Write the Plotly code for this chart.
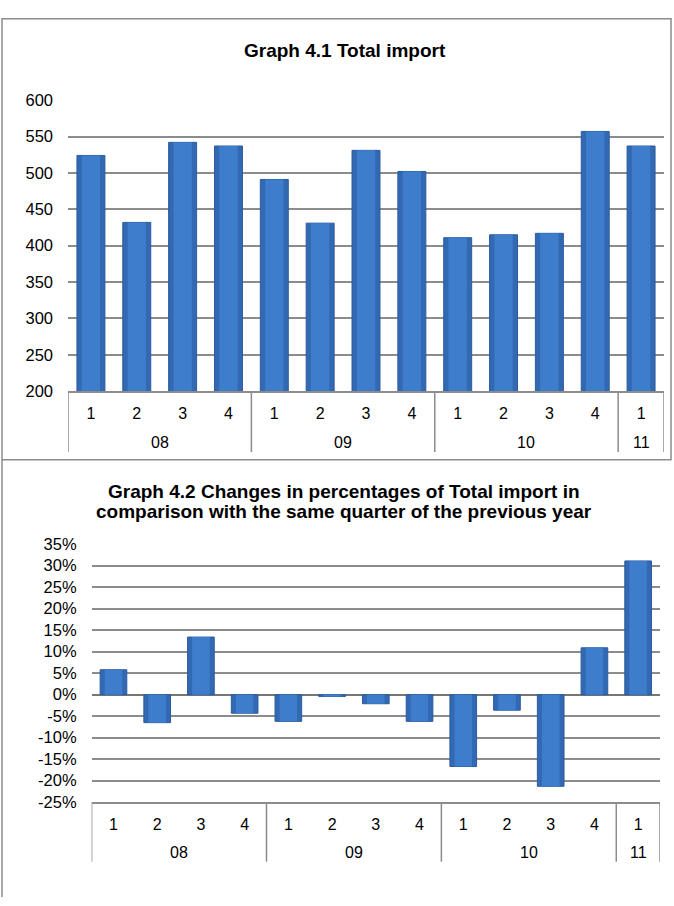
import plotly.graph_objects as go

# ---- data ----
years = ['08', '08', '08', '08', '09', '09', '09', '09', '10', '10', '10', '10', '11']
quarters = ['1', '2', '3', '4', '1', '2', '3', '4', '1', '2', '3', '4', '1']
total_import = [524, 432, 542, 537, 491, 431, 531, 502, 411, 415, 417, 557, 537]
pct_change = [5.8, -6.5, 13.4, -4.3, -6.2, -0.4, -2.1, -6.2, -16.7, -3.6, -21.3, 10.9, 31.1]
import_ticks = [200, 250, 300, 350, 400, 450, 500, 550, 600]
pct_ticks = [-25, -20, -15, -10, -5, 0, 5, 10, 15, 20, 25, 30, 35]
pct_tick_labels = ['-25%', '-20%', '-15%', '-10%', '-5%', '0%', '5%', '10%', '15%',
                   '20%', '25%', '30%', '35%']
title1 = 'Graph 4.1 Total import'
title2a = 'Graph 4.2 Changes in percentages of Total import in'
title2b = 'comparison with the same quarter of the previous year'

W, H = 674, 906
BAR_EDGE = '#2A5C9E'
BAR_OUT = '#3269B2'
BAR_IN = '#3E7DCC'
GRID = '#8C8C8C'
FONT = 'Liberation Sans, Arial, sans-serif'


def px(x):
    return x / W


def py(y):
    return 1 - y / H


idx = list(range(len(quarters)))

# year groups: centers and boundaries derived from the years list
groups = []
for i, yv in enumerate(years):
    if not groups or groups[-1][0] != yv:
        groups.append([yv, i, i])
    else:
        groups[-1][2] = i
bounds = [g[1] - 0.5 for g in groups] + [groups[-1][2] + 0.5]

fig = go.Figure()
for vals, xa, ya in [(total_import, 'x', 'y'), (pct_change, 'x2', 'y2')]:
    fig.add_trace(go.Bar(x=idx, y=vals, xaxis=xa, yaxis=ya, width=0.61,
                         marker=dict(color=BAR_OUT, line=dict(color=BAR_EDGE, width=1)),
                         showlegend=False, hoverinfo='skip'))
    fig.add_trace(go.Bar(x=idx, y=vals, xaxis=xa, yaxis=ya, width=0.40,
                         marker=dict(color=BAR_IN, line=dict(width=0)),
                         showlegend=False, hoverinfo='skip'))

xcommon = dict(type='linear', range=[-0.5, len(idx) - 0.5], tickvals=idx,
               ticktext=quarters, showgrid=False, zeroline=False, ticks='',
               showline=True, linecolor=GRID, linewidth=1.5, ticklabelstandoff=7,
               tickfont=dict(family=FONT, size=16, color='black'))
ycommon = dict(showgrid=True, gridcolor=GRID, gridwidth=1.5, showline=False,
               ticks='', ticklabelstandoff=14,
               tickfont=dict(family=FONT, size=16.5, color='black'))

shapes = [
    dict(type='rect', xref='paper', yref='paper', x0=px(2), x1=px(671),
         y0=py(460), y1=py(10), line=dict(color=GRID, width=1.5)),
    dict(type='line', xref='paper', yref='paper', x0=px(2), x1=px(2),
         y0=py(906), y1=py(460), line=dict(color=GRID, width=1.5)),
]
annotations = [
    dict(text='<b>%s</b>' % title1, xref='paper', yref='paper', x=px(345),
         y=py(42), showarrow=False, xanchor='center', yanchor='middle',
         font=dict(family=FONT, size=19, color='black')),
    dict(text='<b>%s</b>' % title2a, xref='paper', yref='paper', x=px(344),
         y=py(492), showarrow=False, xanchor='center', yanchor='middle',
         font=dict(family=FONT, size=19, color='black')),
    dict(text='<b>%s</b>' % title2b, xref='paper', yref='paper', x=px(344),
         y=py(513), showarrow=False, xanchor='center', yanchor='middle',
         font=dict(family=FONT, size=19, color='black')),
]
for xa, axis_y, year_y, box_bottom in [('x', 390, 442, 452), ('x2', 809.3, 861, 870)]:
    for b in bounds:
        shapes.append(dict(type='line', xref=xa, yref='paper', x0=b, x1=b,
                           y0=py(box_bottom), y1=py(axis_y),
                           line=dict(color=GRID, width=1.5)))
    for name, i0, i1 in groups:
        annotations.append(dict(text=name, xref=xa, yref='paper', x=(i0 + i1) / 2,
                                y=py(year_y), showarrow=False, xanchor='center',
                                yanchor='middle',
                                font=dict(family=FONT, size=16, color='black')))

fig.update_layout(
    width=W, height=H,
    margin=dict(l=0, r=0, t=0, b=0),
    paper_bgcolor='white', plot_bgcolor='white',
    barmode='overlay',
    font=dict(family=FONT, color='black'),
    xaxis=dict(domain=[px(68), px(664)], anchor='y', **xcommon),
    yaxis=dict(domain=[py(390), py(93)], anchor='x', range=[200, 600],
               tickvals=import_ticks, zeroline=False, **ycommon),
    xaxis2=dict(domain=[px(91.6), px(660)], anchor='y2', **xcommon),
    yaxis2=dict(domain=[py(809.3), py(546)], anchor='x2', range=[-25, 35],
                tickvals=pct_ticks, ticktext=pct_tick_labels,
                zeroline=True, zerolinecolor='#767676', zerolinewidth=2, **ycommon),
    shapes=shapes,
    annotations=annotations,
)

fig.write_html('out.html', config={'displayModeBar': False},
               post_script="document.body.style.margin='0';"
                           "document.body.style.overflow='hidden';")
